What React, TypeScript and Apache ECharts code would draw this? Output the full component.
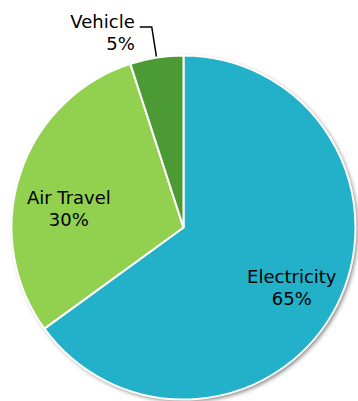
import React, { useEffect, useRef } from "react";
import * as echarts from "echarts";

const categories = ["Electricity", "Air Travel", "Vehicle"];
const values = [65, 30, 5];
const colors = ["#22B1C9", "#92D050", "#4C9A33"];

export default function App() {
  const ref = useRef<HTMLDivElement>(null);
  useEffect(() => {
    document.body.style.margin = "0";
    const chart = echarts.init(ref.current!, null, { renderer: "svg" });
    const font = { fontFamily: "DejaVu Sans", fontSize: 18, lineHeight: 22, color: "#000" };
    const data = categories.map((name, i) => {
      const inside = i < 2;
      return {
        name,
        value: values[i],
        itemStyle: { color: colors[i] },
        label: inside
          ? { show: true, position: "inside", ...font }
          : { show: true, position: "outside", ...font, distanceToLabelLine: 5 },
        labelLine: inside
          ? { show: false }
          : { show: true, length: 31, length2: 12, smooth: false, lineStyle: { color: "#000", width: 1.5 } },
      };
    });
    chart.setOption({
      animation: false,
      series: [
        {
          type: "pie",
          silent: true,
          center: [183.5, 227.5],
          radius: 172,
          z: 1,
          label: { show: false },
          labelLine: { show: false },
          itemStyle: {
            color: "#fff",
            shadowBlur: 4,
            shadowColor: "rgba(0,0,0,0.5)",
            shadowOffsetX: 2,
            shadowOffsetY: 2,
          },
          data: [{ value: 1, name: "bg" }],
        },
        {
          type: "pie",
          z: 2,
          center: [183.5, 227.5],
          radius: 172,
          startAngle: 90,
          clockwise: true,
          avoidLabelOverlap: false,
          itemStyle: { borderColor: "#fff", borderWidth: 2 },
          emphasis: { disabled: true },
          label: {
            formatter: "{b}\n{d}%",
          },
          labelLayout: (params: any) => {
            if (params.dataIndex === 0) return { dx: 29, dy: 20 };
            if (params.dataIndex === 1) return { dx: -30, dy: 9 };
            return { dy: 6, labelLinePoints: params.labelLinePoints };
          },
          data,
        },
      ],
    });
    return () => chart.dispose();
  }, []);
  return <div ref={ref} style={{ width: 358, height: 401 }} />;
}
